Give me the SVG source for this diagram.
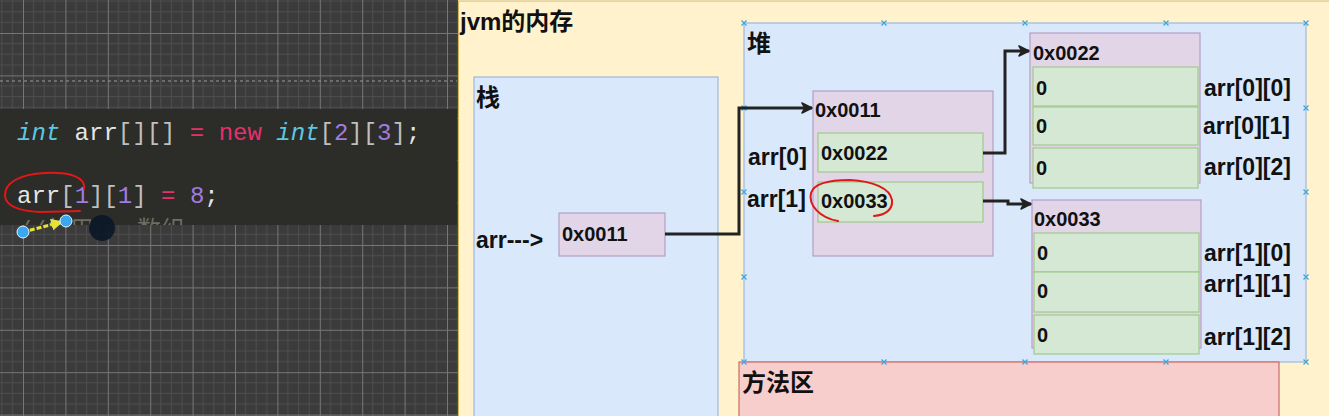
<svg xmlns="http://www.w3.org/2000/svg" width="1329" height="416" viewBox="0 0 1329 416">
<style>
.lbl{font-family:"Liberation Sans","Noto Sans CJK SC",sans-serif;font-weight:bold;fill:#111;}
.t24{font-size:24px;}
.t23{font-size:23px;}
.t20{font-size:20px;}
.code{font-family:"Liberation Mono","Noto Sans CJK SC",monospace;font-size:24px;}
.blue{fill:#dae8fc;stroke:#9db7dc;stroke-width:1.2;}
.purple{fill:#e1d5e7;stroke:#b49ec6;stroke-width:1.2;}
.green{fill:#d5e8d4;stroke:#9fca8a;stroke-width:1.2;}
.conn{fill:none;stroke:#222;stroke-width:3;}
.hdl{stroke:#3aa6e0;stroke-width:1.2;fill:none;}
.red{fill:none;stroke:#e01818;stroke-width:2;stroke-linecap:round;}
</style>
<defs>
<pattern id="grid" x="23" y="33" width="42.4" height="42.4" patternUnits="userSpaceOnUse">
<rect width="42.4" height="42.4" fill="#3b3b3b"/>
<path d="M10.6 0V42.4M21.2 0V42.4M31.8 0V42.4M0 10.6H42.4M0 21.2H42.4M0 31.8H42.4" stroke="#4e4e4e" stroke-width="1"/>
<path d="M0.5 0V42.4M0 0.5H42.4" stroke="#767676" stroke-width="1"/>
</pattern>
<marker id="arr" viewBox="0 0 12 12" refX="11" refY="6" markerWidth="12" markerHeight="12" markerUnits="userSpaceOnUse" orient="auto">
<path d="M1,1 L11,6 L1,11 L4,6 Z" fill="#222" stroke="#222" stroke-width="1.5" stroke-linejoin="round"/>
</marker>
<marker id="yarr" viewBox="0 0 10 10" refX="9" refY="5" markerWidth="12" markerHeight="12" markerUnits="userSpaceOnUse" orient="auto">
<path d="M0,0 L10,5 L0,10 Z" fill="#e6e23a"/>
</marker>
<clipPath id="codeclip"><rect x="0" y="109" width="457" height="116"/></clipPath>
<g id="hx"><path d="M-2.5,-2.5 L2.5,2.5 M-2.5,2.5 L2.5,-2.5" class="hdl"/></g>
</defs>

<!-- left editor area -->
<g id="editor">
<rect x="0" y="0" width="458" height="416" fill="url(#grid)"/>
<line x1="0" y1="81" x2="457" y2="81" stroke="#9a9a9a" stroke-width="1" stroke-dasharray="3 3"/>
<rect x="0" y="109" width="457" height="116" fill="#2c2c29"/>
<text class="code" x="17" y="140"><tspan fill="#5cc8e0" font-style="italic">int</tspan><tspan fill="#e6e6e6"> arr</tspan><tspan fill="#bfbfbf">[][]</tspan><tspan fill="#e8306e"> = new </tspan><tspan fill="#5cc8e0" font-style="italic">int</tspan><tspan fill="#bfbfbf">[</tspan><tspan fill="#a07be0">2</tspan><tspan fill="#bfbfbf">][</tspan><tspan fill="#a07be0">3</tspan><tspan fill="#bfbfbf">]</tspan><tspan fill="#e6e6e6">;</tspan></text>
<text class="code" x="17" y="203"><tspan fill="#e6e6e6">arr</tspan><tspan fill="#bfbfbf">[</tspan><tspan fill="#a07be0">1</tspan><tspan fill="#bfbfbf">][</tspan><tspan fill="#a07be0">1</tspan><tspan fill="#bfbfbf">]</tspan><tspan fill="#e8306e"> = </tspan><tspan fill="#a07be0">8</tspan><tspan fill="#e6e6e6">;</tspan></text>
<text class="code" x="17" y="238" fill="#6e6e66" clip-path="url(#codeclip)">//使用arr数组</text>
<path class="red" d="M84,189 C86,177 70,172 45,173 C20,174 4,183 5,196 C6,207 20,211 40,212 L80,211"/>
<line x1="23" y1="232" x2="62" y2="222" stroke="#e6e23a" stroke-width="3" stroke-dasharray="5 2" marker-end="url(#yarr)"/>
<circle cx="23" cy="232" r="6" fill="#3aa8f0" stroke="#e8f4ff" stroke-width="1"/>
<circle cx="66" cy="221" r="6" fill="#3aa8f0" stroke="#e8f4ff" stroke-width="1"/>
<circle cx="102" cy="228" r="13" fill="#0c1828" opacity="0.92"/>
</g>

<!-- jvm memory container -->
<g id="jvm">
<rect x="458.5" y="1" width="871" height="416" fill="#fff2cc" stroke="#d6b656" stroke-width="1"/>
<text class="lbl t24" x="460" y="30">jvm的内存</text>
</g>

<g id="stack">
<rect class="blue" x="474" y="77" width="244" height="345"/>
<text class="lbl t24" x="476" y="106">栈</text>
<text class="lbl t23" x="476" y="248">arr---&gt;</text>
</g>

<g id="heap">
<rect class="blue" x="744" y="23" width="562" height="339"/>
<text class="lbl t24" x="747" y="52">堆</text>
</g>

<g id="method-area">
<rect x="739" y="362" width="540" height="60" fill="#f8cecc" stroke="#cc6a66" stroke-width="1.2"/>
<text class="lbl t24" x="742" y="391">方法区</text>
</g>

<g id="handles">
<use href="#hx" x="744" y="23"/><use href="#hx" x="884" y="23"/><use href="#hx" x="1025" y="23"/><use href="#hx" x="1166" y="23"/><use href="#hx" x="1306" y="23"/>
<use href="#hx" x="744" y="108"/><use href="#hx" x="744" y="192"/><use href="#hx" x="744" y="277"/><use href="#hx" x="744" y="362"/>
<use href="#hx" x="1306" y="108"/><use href="#hx" x="1306" y="192"/><use href="#hx" x="1306" y="277"/><use href="#hx" x="1306" y="362"/>
<use href="#hx" x="884" y="362"/><use href="#hx" x="1025" y="362"/><use href="#hx" x="1166" y="362"/>
</g>

<g id="stack-ref">
<rect class="purple" x="559" y="213" width="106" height="43"/>
<text class="lbl t20" x="562" y="241">0x0011</text>
</g>

<g id="arr-0011">
<rect class="purple" x="813" y="91" width="180" height="165"/>
<text class="lbl t20" x="815" y="117">0x0011</text>
</g>
<g id="cell-0022">
<rect class="green" x="818" y="133" width="165" height="39"/>
<text class="lbl t20" x="821" y="160">0x0022</text>
</g>
<g id="cell-0033">
<rect class="green" x="818" y="182" width="165" height="40"/>
<text class="lbl t20" x="821" y="208">0x0033</text>
</g>
<g id="labels-arr">
<text class="lbl t23" x="748" y="165">arr[0]</text>
<text class="lbl t23" x="747" y="207">arr[1]</text>
</g>

<g id="arr-0022">
<rect class="purple" x="1030" y="33" width="170" height="150"/>
<text class="lbl t20" x="1033" y="60">0x0022</text>
<rect class="green" x="1033" y="67" width="165" height="39"/>
<text class="lbl t20" x="1036" y="95">0</text>
<rect class="green" x="1033" y="107" width="165" height="38"/>
<text class="lbl t20" x="1036" y="133">0</text>
<rect class="green" x="1033" y="148" width="165" height="40"/>
<text class="lbl t20" x="1036" y="175">0</text>
<text class="lbl t23" x="1204" y="96">arr[0][0]</text>
<text class="lbl t23" x="1203" y="134">arr[0][1]</text>
<text class="lbl t23" x="1204" y="175">arr[0][2]</text>
</g>

<g id="arr-0033">
<rect class="purple" x="1032" y="200" width="169" height="148"/>
<text class="lbl t20" x="1034" y="226">0x0033</text>
<rect class="green" x="1034" y="233" width="165" height="39"/>
<text class="lbl t20" x="1037" y="260">0</text>
<rect class="green" x="1034" y="272" width="165" height="40"/>
<text class="lbl t20" x="1037" y="298">0</text>
<rect class="green" x="1034" y="315" width="165" height="39"/>
<text class="lbl t20" x="1037" y="342">0</text>
<text class="lbl t23" x="1204" y="261">arr[1][0]</text>
<text class="lbl t23" x="1204" y="292">arr[1][1]</text>
<text class="lbl t23" x="1204" y="345">arr[1][2]</text>
</g>

<g id="connectors">
<path class="conn" d="M665,234 H739 V108 H812" marker-end="url(#arr)"/>
<path class="conn" d="M983,153 H1005 V51 H1029" marker-end="url(#arr)"/>
<path class="conn" d="M983,201 H1008 V204 H1031" marker-end="url(#arr)"/>
</g>

<path class="red" d="M838,221 C820,218 808,205 811,193 C814,183 830,180 850,180 C872,181 890,188 892,200 C893,210 885,215 874,216"/>
</svg>
